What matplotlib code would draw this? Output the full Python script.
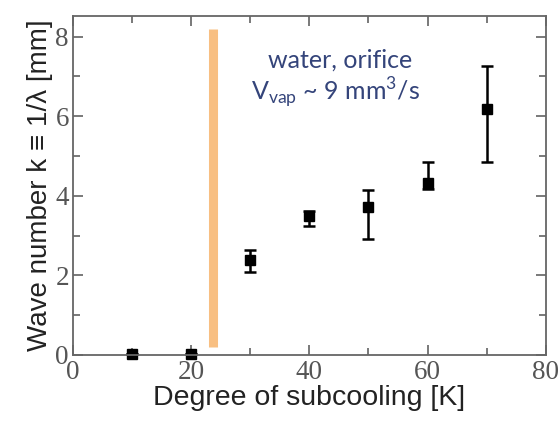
import numpy as np
import matplotlib.pyplot as plt
from matplotlib.ticker import MultipleLocator

# data
subcooling = [10, 20, 30, 40, 50, 60, 70]
wave_number = [0.02, 0.02, 2.39, 3.49, 3.72, 4.32, 6.18]
err_low = [0.0, 0.0, 0.31, 0.25, 0.81, 0.15, 1.32]
err_high = [0.0, 0.0, 0.26, 0.13, 0.43, 0.54, 1.08]

# onset line (orange band)
onset_x = [23.7, 23.7]
onset_y = [0.2, 8.2]

fig = plt.figure(figsize=(5.58, 4.22), dpi=100)
ax = fig.add_axes([0.131, 0.159, 0.847, 0.803])

ax.plot(onset_x, onset_y, color='#f8b874', linewidth=6.5, solid_capstyle='butt', alpha=0.9)

ax.errorbar(subcooling, wave_number, yerr=[err_low, err_high], fmt='s', color='black',
            markersize=7, elinewidth=1.8, capsize=4, capthick=1.8, clip_on=False)

ax.set_xlim(0, 80)
ax.set_ylim(0, 8.52)
ax.xaxis.set_major_locator(MultipleLocator(20))
ax.xaxis.set_minor_locator(MultipleLocator(10))
ax.yaxis.set_major_locator(MultipleLocator(2))
ax.yaxis.set_minor_locator(MultipleLocator(1))
ax.tick_params(which='both', direction='in', top=True, right=True, color='#555555', width=1.1)
ax.tick_params(which='major', length=7, labelsize=19.5)
ax.tick_params(axis='x', which='major', pad=4)
ax.tick_params(axis='y', which='major', pad=3)
ax.tick_params(which='minor', length=5)
for lab in ax.get_xticklabels() + ax.get_yticklabels():
    lab.set_family('Liberation Serif')
    lab.set_color('#555555')
for sp in ax.spines.values():
    sp.set_color('#666666')
    sp.set_linewidth(1.3)

ax.set_xlabel('Degree of subcooling [K]', fontsize=20.5, family='Liberation Sans', color='#222222', labelpad=0)
ax.set_ylabel('Wave number k \u2261 1/\u03bb [mm]', fontsize=20, family='Liberation Sans', color='#222222', labelpad=2)

ax.text(0.564, 0.87, 'water, orifice', transform=ax.transAxes, ha='center', va='center',
        fontsize=18, family='Lato', color='#34447a')
ax.text(0.556, 0.773, r'V$_{\mathregular{vap}}$ ~ 9 mm$^{\mathregular{3}}$/s', transform=ax.transAxes,
        ha='center', va='center', fontsize=18, family='Lato', color='#34447a')

fig.savefig('out.png', dpi=100)
